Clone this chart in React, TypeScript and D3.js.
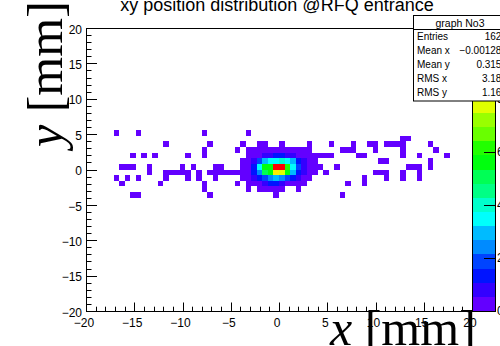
import React from 'react';
import * as d3 from 'd3';

// ---------- data ----------
const title = 'xy position distribution @RFQ entrance';
const xTitleVar = 'x';
const yTitleVar = 'y';
const unitText = ' [mm]';
const xRange: [number, number] = [-20, 20];
const yRange: [number, number] = [-20, 20];
const xBinCount = 70;
const yBinCount = 50;
const zMax = 10.7;
const nContours = 20;
const majorTicks = [-20, -15, -10, -5, 0, 5, 10, 15, 20];
const minorTicks = d3.range(-20, 20.001, 1);
const paletteTicks = [0, 2, 4, 6, 8, 10];

const statsTitle = 'graph No3';
const statsLabels = ['Entries', 'Mean x', 'Mean y', 'RMS x', 'RMS y'];
const statsValues = ['1623', '\u22120.001289', '0.3154', '3.184', '1.168'];

// isolated low-weight cells: [rowIndex, ...columnIndices]
const sparseLevel = 0.3;
const sparseRows: number[][] = [
  [31, 5, 9, 21, 29],
  [30, 57, 58],
  [29, 14, 22, 28, 31, 32, 35, 40, 44, 48, 51, 52, 54, 55, 56, 57, 62],
  [28, 21, 27, 46, 47, 48, 52, 57, 63],
  [27, 8, 10, 12, 18, 21, 49, 50, 57, 60, 65],
  [26, 53, 54, 62],
  [25, 6, 7, 8, 11, 17, 19, 23, 24, 45, 58, 59, 60, 62],
  [24, 11, 14, 15, 16, 17, 18, 20, 22, 23, 24, 25, 26, 27, 43, 52, 53, 54, 57, 60],
  [23, 5, 7, 9, 14, 18, 20, 23, 50, 54, 57, 60],
  [22, 6, 13, 21, 27, 47, 50],
  [21, 21, 29, 31, 32, 33, 34, 35, 38],
  [20, 8, 9, 22, 34, 46],
];

// central core: [rowIndex, firstColumn, values]
const coreRows: [number, number, number[]][] = [
  [28, 29, [0.3, 0.3, 0.3, 0.3, 0.3, 0.3, 0.3, 0.3, 0.3, 0.3, 0.3, 0.3]],
  [27, 29, [0.3, 0.3, 0.3, 0.8, 0.8, 1.3, 1.3, 0.8, 0.8, 0.3, 0.3, 0.3, 0.3, 0.3, 0.3, 0.3]],
  [26, 28, [0.3, 0.3, 0.8, 1.9, 2.9, 3.5, 3.5, 4.0, 3.5, 2.9, 1.3, 0.8, 0.3, 0.3]],
  [25, 28, [0.3, 0.3, 1.3, 3.5, 5.6, 5.6, 10.5, 10.6, 6.1, 3.5, 1.9, 0.8, 0.3, 0.3, 0.3]],
  [24, 28, [0.3, 0.3, 1.3, 2.4, 5.1, 5.6, 8.3, 7.7, 5.6, 2.9, 1.3, 0.8, 0.3, 0.3]],
  [23, 28, [0.3, 0.3, 0.8, 1.3, 1.9, 2.4, 2.9, 2.4, 1.9, 1.3, 0.8, 0.3, 0.3]],
  [22, 29, [0.3, 0.3, 0.3, 0.8, 1.3, 1.3, 0.8, 0.3, 0.3, 0.3, 0.3]],
];

// ---------- helpers ----------
const paletteColor = (idx: number) =>
  idx >= 49 ? '#ff0000' : d3.hsl(280 - (idx + 1) * 5.6, 1, 0.5).formatHex();
const bandColor = (band: number) =>
  paletteColor(Math.min(49, Math.floor(((band + 0.99) * 50) / nContours)));
const zBand = (z: number) => Math.min(nContours - 1, Math.floor(0.01 + (z * nContours) / zMax));

const SANS = 'Liberation Sans, Arial, Helvetica, sans-serif';
const SERIF = 'Liberation Serif, Times New Roman, serif';

export default function App() {
  const W = 500, H = 346;
  const fL = 86, fR = 472, fT = 28, fB = 311;
  const x = d3.scaleLinear().domain(xRange).range([fL, fR]);
  const y = d3.scaleLinear().domain(yRange).range([fB, fT]);
  const z = d3.scaleLinear().domain([0, zMax]).range([fB, fT]);
  const bx = (i: number) => xRange[0] + (i * (xRange[1] - xRange[0])) / xBinCount;
  const by = (j: number) => yRange[0] + (j * (yRange[1] - yRange[0])) / yBinCount;

  const cells: { ix: number; iy: number; v: number }[] = [];
  sparseRows.forEach(([iy, ...ixs]) => ixs.forEach((ix) => cells.push({ ix, iy, v: sparseLevel })));
  coreRows.forEach(([iy, ix0, vals]) => vals.forEach((v, k) => cells.push({ ix: ix0 + k, iy, v })));

  const dz = zMax / nContours;
  const pL = 472, pR = 495;

  return (
    <svg width={W} height={H} style={{ position: 'absolute', left: 0, top: 0, background: '#fff' }}>
      <rect x={0} y={0} width={W} height={H} fill="#fff" />
      {/* cells */}
      {cells.map((c, k) => (
        <rect
          key={k}
          x={x(bx(c.ix))}
          y={y(by(c.iy + 1))}
          width={x(bx(c.ix + 1)) - x(bx(c.ix))}
          height={y(by(c.iy)) - y(by(c.iy + 1))}
          fill={bandColor(zBand(c.v))}
          shapeRendering="crispEdges"
        />
      ))}
      {/* palette */}
      {d3.range(nContours).map((k) => (
        <rect
          key={'p' + k}
          x={pL}
          y={z((k + 1) * dz)}
          width={pR - pL}
          height={z(k * dz) - z((k + 1) * dz)}
          fill={bandColor(k)}
          shapeRendering="crispEdges"
        />
      ))}
      <rect x={pL + 0.5} y={fT + 0.5} width={pR - pL} height={fB - fT} fill="none" stroke="#000" strokeWidth={1} />
      {paletteTicks.map((t) => (
        <g key={'pt' + t}>
          <line x1={pR - 11} x2={pR} y1={Math.round(z(t)) + 0.5} y2={Math.round(z(t)) + 0.5} stroke="#000" />
          <text x={pR + 2} y={z(t) + 4} fontFamily={SANS} fontSize={12}>{t}</text>
        </g>
      ))}
      {/* frame */}
      <rect x={fL + 0.5} y={fT + 0.5} width={fR - fL} height={fB - fT} fill="none" stroke="#000" strokeWidth={1} />
      {/* x axis */}
      {minorTicks.map((t) => {
        const major = majorTicks.includes(t);
        const px = Math.round(x(t)) + 0.5;
        return <line key={'xt' + t} x1={px} x2={px} y1={fB} y2={fB - (major ? 8.5 : 4.3)} stroke="#000" />;
      })}
      {majorTicks.map((t) => (
        <text key={'xl' + t} x={x(t) - 2} y={327} textAnchor="middle" fontFamily={SANS} fontSize={12}>
          {t < 0 ? '\u2212' + Math.abs(t) : t}
        </text>
      ))}
      {/* y axis */}
      {minorTicks.map((t) => {
        const major = majorTicks.includes(t);
        const py = Math.round(y(t)) + 0.5;
        return <line key={'yt' + t} x1={fL} x2={fL + (major ? 11 : 5.5)} y1={py} y2={py} stroke="#000" />;
      })}
      {majorTicks.map((t) => (
        <text key={'yl' + t} x={82} y={y(t) + 5.7} textAnchor="end" fontFamily={SANS} fontSize={12}>
          {t < 0 ? '\u2212' + Math.abs(t) : t}
        </text>
      ))}
      {/* stats box */}
      <rect x={413.5} y={15.5} width={100} height={85.5} fill="#fff" stroke="#000" />
      <line x1={413} x2={513} y1={29.5} y2={29.5} stroke="#000" />
      <text x={460} y={26.5} textAnchor="middle" fontFamily={SANS} fontSize={10.5}>{statsTitle}</text>
      {statsLabels.map((l, i) => (
        <g key={'s' + i}>
          <text x={417} y={40 + i * 14.1} fontFamily={SANS} fontSize={10}>{l}</text>
          <text x={507} y={40 + i * 14.1} textAnchor="end" fontFamily={SANS} fontSize={10}>{statsValues[i]}</text>
        </g>
      ))}
      {/* title */}
      <text x={277} y={10.5} textAnchor="middle" fontFamily={SANS} fontSize={18}>{title}</text>
      {/* axis titles */}
      <text x={330} y={345} fontFamily={SERIF} fontSize={50}>
        <tspan fontStyle="italic">{xTitleVar}</tspan>{unitText}
      </text>
      <text transform="translate(62,147) rotate(-90)" fontFamily={SERIF} fontSize={50}>
        <tspan fontStyle="italic">{yTitleVar}</tspan>{unitText}
      </text>
    </svg>
  );
}
